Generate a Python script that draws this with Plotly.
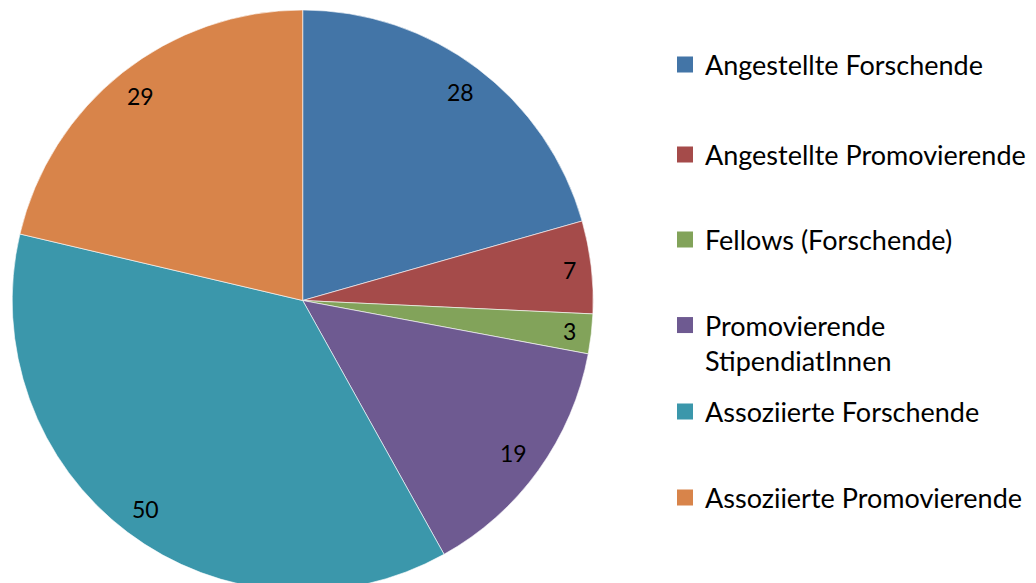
import math
import plotly.graph_objects as go

categories = [
    "Angestellte Forschende",
    "Angestellte Promovierende",
    "Fellows (Forschende)",
    "Promovierende<br>StipendiatInnen",
    "Assoziierte Forschende",
    "Assoziierte Promovierende",
]
values = [28, 7, 3, 19, 50, 29]
colors = ["#4375A7", "#A54B4A", "#82A35A", "#6E5A91", "#3B97AB", "#D8844A"]

# layout (figure pixel coordinates; page adds an 8px body margin)
W, H = 1036, 583
MT, MB = 2, 0
plot_h = H - MT - MB
R = plot_h / 2.0
cx_px = 294.7
cy_px = MT + R
legend_text_x = 697
legend_centers = [57, 147, 232, 335, 404, 490]
FONT = "Lato, Carlito, sans-serif"
LABEL_SIZE = 23

fig = go.Figure()
fig.add_trace(go.Pie(
    labels=categories,
    values=values,
    sort=False,
    direction="clockwise",
    rotation=0,
    marker=dict(colors=colors, line=dict(color="rgba(255,255,255,0.6)", width=1)),
    textinfo="none",
    hoverinfo="label+value",
    domain=dict(x=[0, 2 * cx_px / W], y=[0, 1]),
    showlegend=False,
))

# value labels at the inside end of each slice
total = sum(values)
cum = 0.0
for v in values:
    mid = (cum + v / 2.0) / total * 2 * math.pi
    cum += v
    ang = math.pi / 2 - mid
    txt = str(v)
    half_w = 0.29 * LABEL_SIZE * len(txt)
    half_h = 0.4 * LABEL_SIZE
    extent = half_w * abs(math.cos(ang)) + half_h * abs(math.sin(ang))
    rr = R - 14 - extent
    px = cx_px + rr * math.cos(ang)
    py = cy_px - rr * math.sin(ang)
    fig.add_annotation(
        x=px / W, y=(H - MB - py) / plot_h, xref="paper", yref="paper",
        text=txt, showarrow=False,
        font=dict(family=FONT, size=LABEL_SIZE, color="#000000"),
        xanchor="center", yanchor="middle",
    )

# legend: one legend per category so spacing can follow the original
legend_layouts = {}
for i, (name, col) in enumerate(zip(categories, colors)):
    lname = "legend" if i == 0 else f"legend{i + 1}"
    fig.add_trace(go.Scatter(
        x=[None], y=[None], mode="markers", name=name,
        marker=dict(symbol="square", size=16, color=col, line=dict(width=0)),
        legend=lname, hoverinfo="skip",
    ))
    legend_layouts[lname] = dict(
        x=(legend_text_x - 40) / W,
        y=(H - MB - legend_centers[i]) / plot_h,
        xanchor="left", yanchor="middle",
        font=dict(family=FONT, size=27, color="#000000"),
        valign="top",
        bgcolor="rgba(0,0,0,0)",
        borderwidth=0,
    )

fig.update_layout(
    width=W, height=H,
    margin=dict(l=0, r=0, t=MT, b=MB),
    paper_bgcolor="white",
    plot_bgcolor="white",
    xaxis=dict(visible=False),
    yaxis=dict(visible=False),
    **legend_layouts,
)

fig.write_html("out.html")
